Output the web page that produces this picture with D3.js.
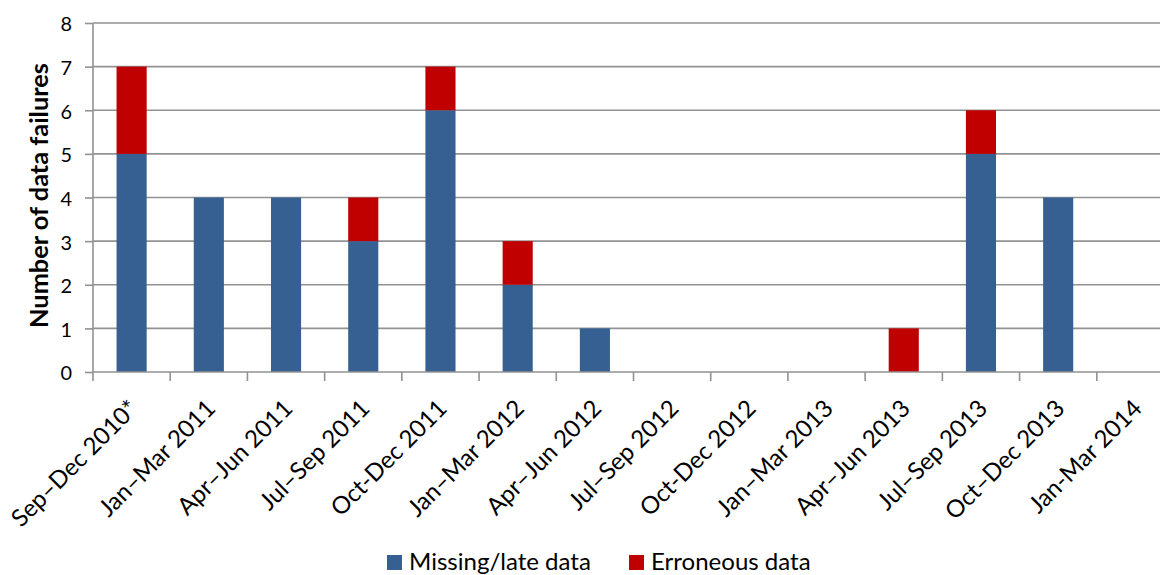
<!DOCTYPE html>
<html>
<head>
<meta charset="utf-8">
<script src="https://cdn.jsdelivr.net/npm/d3@7"></script>
<style>
  html, body { margin: 0; padding: 0; background: #fff; }
  svg { display: block; }
  text { font-family: Lato, "Open Sans", sans-serif; fill: #000; }
</style>
</head>
<body>
<svg id="chart" width="1160" height="575"></svg>
<script>
const categories = ["Sep–Dec 2010*", "Jan–Mar 2011", "Apr–Jun 2011", "Jul–Sep 2011", "Oct-Dec 2011",
  "Jan–Mar 2012", "Apr–Jun 2012", "Jul–Sep 2012", "Oct-Dec 2012", "Jan–Mar 2013",
  "Apr–Jun 2013", "Jul–Sep 2013", "Oct–Dec 2013", "Jan-Mar 2014"];
const missingLate = [5, 4, 4, 3, 6, 2, 1, 0, 0, 0, 0, 5, 4, 0];
const erroneous   = [2, 0, 0, 1, 1, 1, 0, 0, 0, 0, 1, 1, 0, 0];
const seriesNames = ["Missing/late data", "Erroneous data"];
const yTicks = [0, 1, 2, 3, 4, 5, 6, 7, 8];
const yTitle = "Number of data failures";

const colors = ["#376092", "#C00000"];
const gridColor = "#929292";

const svg = d3.select("#chart");
const W = 1160, H = 575;
const mLeft = 93, mTop = 23, mBottom = 372, mRight = 1174;

function fitSize(str, target, weight) {
  const t = svg.append("text").attr("font-size", 100).attr("font-weight", weight || "normal").text(str);
  const w = t.node().getComputedTextLength();
  t.remove();
  return 100 * target / w;
}
const legendSize = fitSize(seriesNames[0], 182);
const xLabelSize = fitSize(categories[1], 153);
const yTickSize = legendSize * 21.5 / 26;
const titleSize = fitSize(yTitle, 265, "bold");

const table = categories.map((c, i) => ({ cat: c, missing: missingLate[i], erroneous: erroneous[i] }));
const stack = d3.stack().keys(["missing", "erroneous"])(table);

const x = d3.scaleBand().domain(categories).range([mLeft, mRight]).paddingInner(0.61).paddingOuter(0.305);
const y = d3.scaleLinear().domain([0, 8]).range([mBottom, mTop]);

// gridlines
svg.append("g").selectAll("line").data(yTicks.filter(d => d > 0)).join("line")
  .attr("x1", mLeft).attr("x2", W)
  .attr("y1", d => y(d)).attr("y2", d => y(d))
  .attr("stroke", gridColor).attr("stroke-width", 1.6);

// bars
svg.append("g").selectAll("g").data(stack).join("g")
  .attr("fill", (d, i) => colors[i])
  .selectAll("rect").data(d => d.filter(s => s[1] - s[0] > 0)).join("rect")
  .attr("x", d => x(d.data.cat))
  .attr("width", x.bandwidth())
  .attr("y", d => y(d[1]))
  .attr("height", d => y(d[0]) - y(d[1]));

// y axis
const yAxis = svg.append("g").attr("transform", `translate(${mLeft},0)`)
  .call(d3.axisLeft(y).tickValues(yTicks).tickFormat(d3.format("d")).tickSize(8).tickPadding(13));
yAxis.select(".domain").attr("stroke", gridColor).attr("stroke-width", 1.6).attr("d", `M0,${mTop}V${mBottom}`);
yAxis.selectAll(".tick line").attr("stroke", gridColor).attr("stroke-width", 1.6);
yAxis.selectAll(".tick text").attr("font-size", yTickSize).attr("font-family", "Lato, 'Open Sans', sans-serif")
  .attr("fill", "#000").attr("dy", "0.4em");

// x axis
const xAxis = svg.append("g").attr("transform", `translate(0,${mBottom})`)
  .call(d3.axisBottom(x).tickSize(0).tickFormat(""));
xAxis.select(".domain").attr("stroke", gridColor).attr("stroke-width", 1.6).attr("d", `M${mLeft},0H${W}`);
const boundaries = categories.map(c => x(c) - (x.step() - x.bandwidth()) / 2);
svg.append("g").selectAll("line").data(boundaries.concat([mRight])).join("line")
  .attr("x1", d => d).attr("x2", d => d)
  .attr("y1", mBottom).attr("y2", mBottom + 9)
  .attr("stroke", gridColor).attr("stroke-width", 1.6);

// x labels
svg.append("g").selectAll("text").data(categories).join("text")
  .attr("transform", d => `translate(${x(d) + x.bandwidth() / 2 + 2},${mBottom + 32}) rotate(-45)`)
  .attr("text-anchor", "end")
  .attr("dy", "0.35em")
  .attr("font-size", xLabelSize)
  .text(d => d);

// y title
svg.append("text")
  .attr("transform", `translate(48,${(63 + 328) / 2}) rotate(-90)`)
  .attr("text-anchor", "middle")
  .attr("font-weight", "bold")
  .attr("font-size", titleSize)
  .text(yTitle);

// legend
const legendX = [387, 629];
const lg = svg.append("g").selectAll("g").data(seriesNames).join("g")
  .attr("transform", (d, i) => `translate(${legendX[i]},555)`);
lg.append("rect").attr("width", 15).attr("height", 15).attr("fill", (d, i) => colors[i]);
lg.append("text").attr("x", 22).attr("y", 15).attr("font-size", legendSize).text(d => d);
</script>
</body>
</html>
